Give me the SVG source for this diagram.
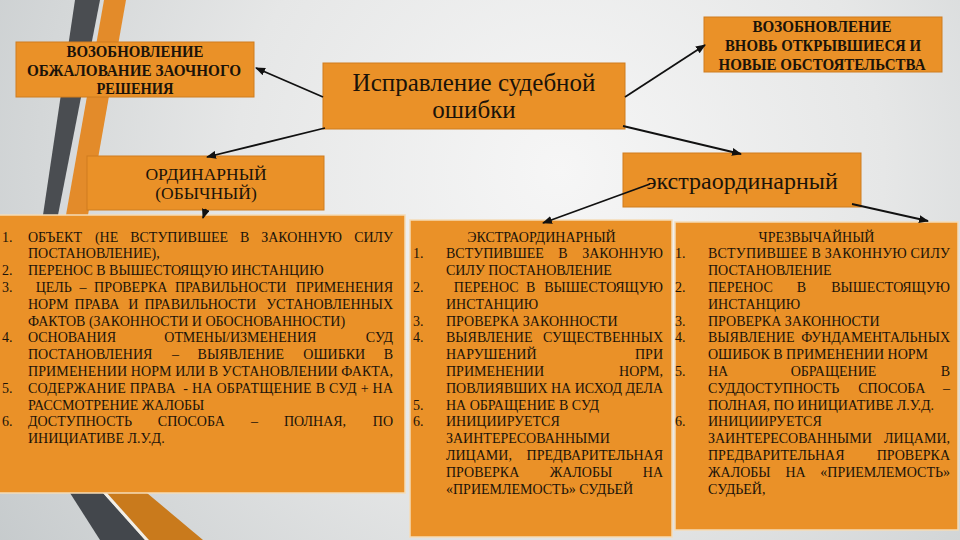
<svg xmlns="http://www.w3.org/2000/svg" width="960" height="540" viewBox="0 0 960 540">
<defs>
<radialGradient id="bg" cx="560" cy="170" r="720" gradientUnits="userSpaceOnUse">
<stop offset="0" stop-color="#f6f6f6"/>
<stop offset="0.45" stop-color="#e6e7e7"/>
<stop offset="1" stop-color="#c2c7c9"/>
</radialGradient>
<marker id="ah" markerWidth="10" markerHeight="8" refX="9" refY="4" orient="auto" markerUnits="userSpaceOnUse">
<path d="M0,0 L10,4 L0,8 z" fill="#111"/>
</marker>
<style>
.t{font-family:"Liberation Serif","Times New Roman",serif;fill:#1b1309}
.l{font-size:14px}
.h{font-size:16px;font-weight:bold}
.c{text-anchor:middle}
.e{text-anchor:end}
.box{fill:#ea9128;stroke:#cf7c1e;stroke-width:1}
.big{fill:#ea9128;stroke:#f5dcb6;stroke-width:1.5}
.cn{stroke:#111;stroke-width:1.8;fill:none;marker-end:url(#ah)}
</style>
</defs>
<rect x="0" y="0" width="960" height="540" fill="url(#bg)"/>
<g id="decor">
<polygon points="75,0 100,0 58,215 43,215" fill="#4a4d51"/>
<polygon points="104,0 126,0 88,215 66,215" fill="#e38b2a"/>
<polygon points="70,493 103,493 145,540 100,540" fill="#43474c"/>
<polygon points="103,493 107,493 149,540 145,540" fill="#f3efe6"/>
<polygon points="107,493 147,493 203,540 149,540" fill="#c97a1c"/>
</g>
<g id="n-appeal">
<rect class="box" x="16" y="42" width="238" height="55"/>
<text class="t h c" x="135" y="56.5" textLength="137" lengthAdjust="spacingAndGlyphs">ВОЗОБНОВЛЕНИЕ</text>
<text class="t h c" x="134" y="75.5" textLength="214" lengthAdjust="spacingAndGlyphs">ОБЖАЛОВАНИЕ ЗАОЧНОГО</text>
<text class="t h c" x="135" y="93.5" textLength="77" lengthAdjust="spacingAndGlyphs">РЕШЕНИЯ</text>
</g>
<g id="n-main">
<rect class="box" x="323" y="63" width="302" height="66"/>
<text class="t c" x="474" y="91" font-size="25">Исправление судебной</text>
<text class="t c" x="474" y="118" font-size="25">ошибки</text>
</g>
<g id="n-new">
<rect class="box" x="704" y="17" width="238" height="55"/>
<text class="t h c" x="822" y="31.5" textLength="139" lengthAdjust="spacingAndGlyphs">ВОЗОБНОВЛЕНИЕ</text>
<text class="t h c" x="823" y="51" textLength="196" lengthAdjust="spacingAndGlyphs">ВНОВЬ ОТКРЫВШИЕСЯ И</text>
<text class="t h c" x="822" y="69.5" textLength="207" lengthAdjust="spacingAndGlyphs">НОВЫЕ ОБСТОЯТЕЛЬСТВА</text>
</g>
<g id="n-ordinary">
<rect class="box" x="87" y="156" width="237" height="54"/>
<text class="t c" x="206" y="180" font-size="17.5">ОРДИНАРНЫЙ</text>
<text class="t c" x="206" y="199" font-size="17.5">(ОБЫЧНЫЙ)</text>
</g>
<g id="n-extra">
<rect class="box" x="623" y="153" width="238" height="54"/>
<text class="t c" x="742" y="189" font-size="24">экстраординарный</text>
</g>
<g id="n-list-ordinary">
<rect class="big" x="-2" y="215" width="407" height="278"/>
<text class="t l" x="2" y="241.5">1.</text>
<text class="t l" y="241.5"><tspan x="28">ОБЪЕКТ</tspan><tspan x="94.9">(НЕ</tspan><tspan x="130.2">ВСТУПИВШЕЕ</tspan><tspan x="239.9">В</tspan><tspan x="261.2">ЗАКОННУЮ</tspan></text>
<text class="t l e" x="393" y="241.5">СИЛУ</text>
<text class="t l" x="28" y="258.3">ПОСТАНОВЛЕНИЕ),</text>
<text class="t l" x="2" y="275.1">2.</text>
<text class="t l" x="28" y="275.1">ПЕРЕНОС В ВЫШЕСТОЯЩУЮ ИНСТАНЦИЮ</text>
<text class="t l" x="2" y="291.9">3.</text>
<text class="t l" y="291.9"><tspan x="35.7">ЦЕЛЬ</tspan><tspan x="79.5">–</tspan><tspan x="94.1">ПРОВЕРКА</tspan><tspan x="174.9">ПРАВИЛЬНОСТИ</tspan></text>
<text class="t l e" x="393" y="291.9">ПРИМЕНЕНИЯ</text>
<text class="t l" y="308.7"><tspan x="28">НОРМ</tspan><tspan x="74.6">ПРАВА</tspan><tspan x="128.2">И</tspan><tspan x="144.5">ПРАВИЛЬНОСТИ</tspan></text>
<text class="t l e" x="393" y="308.7">УСТАНОВЛЕННЫХ</text>
<text class="t l" x="28" y="325.5">ФАКТОВ (ЗАКОННОСТИ И ОБОСНОВАННОСТИ)</text>
<text class="t l" x="2" y="342.3">4.</text>
<text class="t l" y="342.3"><tspan x="28">ОСНОВАНИЯ</tspan><tspan x="164.3">ОТМЕНЫ/ИЗМЕНЕНИЯ</tspan></text>
<text class="t l e" x="393" y="342.3">СУД</text>
<text class="t l" y="359.1"><tspan x="28">ПОСТАНОВЛЕНИЯ</tspan><tspan x="172">–</tspan><tspan x="197.6">ВЫЯВЛЕНИЕ</tspan><tspan x="303.3">ОШИБКИ</tspan></text>
<text class="t l e" x="393" y="359.1">В</text>
<text class="t l" x="28" y="375.9" textLength="365" lengthAdjust="spacing">ПРИМЕНЕНИИ НОРМ ИЛИ В УСТАНОВЛЕНИИ ФАКТА,</text>
<text class="t l" x="2" y="392.7">5.</text>
<text class="t l" x="28" y="392.7" xml:space="preserve" textLength="365" lengthAdjust="spacing">СОДЕРЖАНИЕ ПРАВА  - НА ОБРАТЩЕНИЕ В СУД + НА</text>
<text class="t l" x="28" y="409.5">РАССМОТРЕНИЕ ЖАЛОБЫ</text>
<text class="t l" x="2" y="426.3">6.</text>
<text class="t l" y="426.3"><tspan x="28">ДОСТУПНОСТЬ</tspan><tspan x="157.8">СПОСОБА</tspan><tspan x="250.9">–</tspan><tspan x="284">ПОЛНАЯ,</tspan></text>
<text class="t l e" x="393" y="426.3">ПО</text>
<text class="t l" x="28" y="443.1">ИНИЦИАТИВЕ Л.У.Д.</text>
</g>
<g id="n-list-extra">
<rect class="big" x="410" y="220" width="262" height="317"/>
<text class="t l c" x="541.5" y="241.5">ЭКСТРАОРДИНАРНЫЙ</text>
<text class="t l" x="413" y="258.3">1.</text>
<text class="t l" y="258.3"><tspan x="446">ВСТУПИВШЕЕ</tspan><tspan x="558.2">В</tspan></text>
<text class="t l e" x="663" y="258.3">ЗАКОННУЮ</text>
<text class="t l" x="446" y="275.1">СИЛУ ПОСТАНОВЛЕНИЕ</text>
<text class="t l" x="413" y="291.9">2.</text>
<text class="t l" y="291.9"><tspan x="453.8">ПЕРЕНОС</tspan><tspan x="526.1">В</tspan></text>
<text class="t l e" x="663" y="291.9">ВЫШЕСТОЯЩУЮ</text>
<text class="t l" x="446" y="308.7">ИНСТАНЦИЮ</text>
<text class="t l" x="413" y="325.5">3.</text>
<text class="t l" x="446" y="325.5">ПРОВЕРКА ЗАКОННОСТИ</text>
<text class="t l" x="413" y="342.3">4.</text>
<text class="t l" x="446" y="342.3">ВЫЯВЛЕНИЕ</text>
<text class="t l e" x="663" y="342.3">СУЩЕСТВЕННЫХ</text>
<text class="t l" x="446" y="359.1">НАРУШЕНИЙ</text>
<text class="t l e" x="663" y="359.1">ПРИ</text>
<text class="t l" x="446" y="375.9">ПРИМЕНЕНИИ</text>
<text class="t l e" x="663" y="375.9">НОРМ,</text>
<text class="t l" x="446" y="392.7" textLength="217" lengthAdjust="spacing">ПОВЛИЯВШИХ НА ИСХОД ДЕЛА</text>
<text class="t l" x="413" y="409.5">5.</text>
<text class="t l" x="446" y="409.5">НА ОБРАЩЕНИЕ В СУД</text>
<text class="t l" x="413" y="426.3">6.</text>
<text class="t l" x="446" y="426.3">ИНИЦИИРУЕТСЯ</text>
<text class="t l" x="446" y="443.1">ЗАИНТЕРЕСОВАННЫМИ</text>
<text class="t l" x="446" y="459.9">ЛИЦАМИ,</text>
<text class="t l e" x="663" y="459.9">ПРЕДВАРИТЕЛЬНАЯ</text>
<text class="t l" y="476.7"><tspan x="446">ПРОВЕРКА</tspan><tspan x="549.7">ЖАЛОБЫ</tspan></text>
<text class="t l e" x="663" y="476.7">НА</text>
<text class="t l" x="446" y="493.5">«ПРИЕМЛЕМОСТЬ» СУДЬЕЙ</text>
</g>
<g id="n-list-emergency">
<rect class="big" x="675" y="222" width="283" height="308"/>
<text class="t l c" x="816.5" y="241.5">ЧРЕЗВЫЧАЙНЫЙ</text>
<text class="t l" x="675" y="258.3">1.</text>
<text class="t l" x="708" y="258.3" textLength="242" lengthAdjust="spacing">ВСТУПИВШЕЕ В ЗАКОННУЮ СИЛУ</text>
<text class="t l" x="708" y="275.1">ПОСТАНОВЛЕНИЕ</text>
<text class="t l" x="675" y="291.9">2.</text>
<text class="t l" y="291.9"><tspan x="708">ПЕРЕНОС</tspan><tspan x="796.7">В</tspan></text>
<text class="t l e" x="950" y="291.9">ВЫШЕСТОЯЩУЮ</text>
<text class="t l" x="708" y="308.7">ИНСТАНЦИЮ</text>
<text class="t l" x="675" y="325.5">3.</text>
<text class="t l" x="708" y="325.5">ПРОВЕРКА ЗАКОННОСТИ</text>
<text class="t l" x="675" y="342.3">4.</text>
<text class="t l" x="708" y="342.3">ВЫЯВЛЕНИЕ</text>
<text class="t l e" x="950" y="342.3">ФУНДАМЕНТАЛЬНЫХ</text>
<text class="t l" x="708" y="359.1">ОШИБОК В ПРИМЕНЕНИИ НОРМ</text>
<text class="t l" x="675" y="375.9">5.</text>
<text class="t l" y="375.9"><tspan x="708">НА</tspan><tspan x="790.7">ОБРАЩЕНИЕ</tspan></text>
<text class="t l e" x="950" y="375.9">В</text>
<text class="t l" y="392.7"><tspan x="708">СУДДОСТУПНОСТЬ</tspan><tspan x="858.2">СПОСОБА</tspan></text>
<text class="t l e" x="950" y="392.7">–</text>
<text class="t l" x="708" y="409.5">ПОЛНАЯ, ПО ИНИЦИАТИВЕ Л.У.Д.</text>
<text class="t l" x="675" y="426.3">6.</text>
<text class="t l" x="708" y="426.3">ИНИЦИИРУЕТСЯ</text>
<text class="t l" x="708" y="443.1">ЗАИНТЕРЕСОВАННЫМИ</text>
<text class="t l e" x="950" y="443.1">ЛИЦАМИ,</text>
<text class="t l" x="708" y="459.9">ПРЕДВАРИТЕЛЬНАЯ</text>
<text class="t l e" x="950" y="459.9">ПРОВЕРКА</text>
<text class="t l" y="476.7"><tspan x="708">ЖАЛОБЫ</tspan><tspan x="785.4">НА</tspan></text>
<text class="t l e" x="950" y="476.7">«ПРИЕМЛЕМОСТЬ»</text>
<text class="t l" x="708" y="493.5">СУДЬЕЙ,</text>
</g>
<g id="connectors">
<line class="cn" x1="323" y1="97" x2="256" y2="68"/>
<line class="cn" x1="325" y1="128" x2="207" y2="157"/>
<line class="cn" x1="625" y1="97" x2="705" y2="45"/>
<line class="cn" x1="623" y1="126" x2="741" y2="154"/>
<line class="cn" x1="650" y1="184" x2="543" y2="223"/>
<line class="cn" x1="852" y1="204" x2="928" y2="221"/>
<line class="cn" x1="206" y1="209" x2="203" y2="218"/>
</g>
</svg>
